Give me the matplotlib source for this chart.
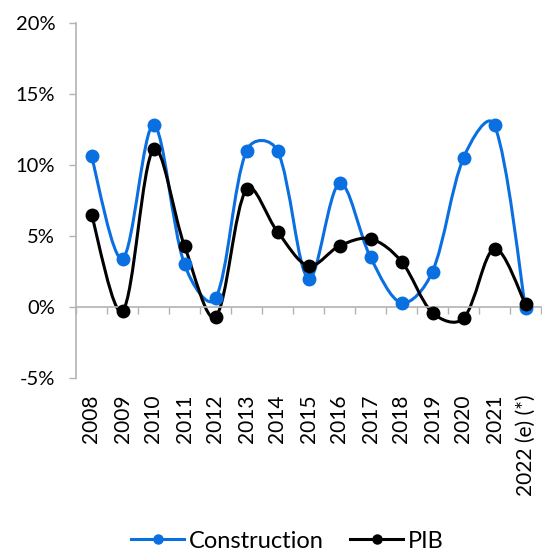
import matplotlib
matplotlib.use("Agg")
import matplotlib.pyplot as plt
import numpy as np
from matplotlib.path import Path
from matplotlib.patches import PathPatch
from matplotlib.lines import Line2D
from matplotlib.ticker import FuncFormatter

plt.rcParams['font.family'] = ['Lato', 'DejaVu Sans']

# Data (in %)
years = ['2008', '2009', '2010', '2011', '2012', '2013', '2014', '2015',
         '2016', '2017', '2018', '2019', '2020', '2021', '2022 (e) (*)']
construction = [10.6, 3.4, 12.8, 3.0, 0.6, 11.0, 11.0, 2.0,
                8.7, 3.5, 0.3, 2.5, 10.5, 12.8, -0.1]
pib = [6.5, -0.3, 11.1, 4.3, -0.7, 8.3, 5.3, 2.9,
       4.3, 4.8, 3.2, -0.4, -0.8, 4.1, 0.2]

BLUE = '#0A6FE0'
BLACK = '#000000'
GREY = '#b3b3b3'


def smooth_path(ax, x, y):
    """Excel-like smoothed line (Catmull-Rom in pixel space, damped where
    neighbouring segments have very different lengths)."""
    pts = ax.transData.transform(np.column_stack([x, y]).astype(float))
    n = len(pts)
    seg = np.hypot(*np.diff(pts, axis=0).T)

    def ctrl(i, forward):
        if i == 0 or i == n - 1:
            other = pts[i + 1] if i == 0 else pts[i - 1]
            return pts[i] + (other - pts[i]) / 6.0
        d = pts[i + 1] - pts[i - 1]
        own = seg[i] if forward else seg[i - 1]
        w = np.sqrt(2 * own / (seg[i - 1] + seg[i])) / 6.0
        return pts[i] + d * w if forward else pts[i] - d * w

    verts = [pts[0]]
    codes = [Path.MOVETO]
    for i in range(n - 1):
        verts += [ctrl(i, True), ctrl(i + 1, False), pts[i + 1]]
        codes += [Path.CURVE4] * 3
    verts = ax.transData.inverted().transform(np.array(verts))
    return Path(verts, codes)


fig = plt.figure(figsize=(5.42, 5.52), dpi=100)
ax = fig.add_axes([76 / 542, 1 - 378 / 552, 465 / 542, 355 / 552])

x = np.arange(len(years))
ax.set_xlim(-0.5, len(years) - 0.5)
ax.set_ylim(-5, 20)

for vals, col in [(construction, BLUE), (pib, BLACK)]:
    patch = PathPatch(smooth_path(ax, x, vals), facecolor='none',
                      edgecolor=col, lw=2.2, zorder=2)
    ax.add_patch(patch)
    ax.plot(x, vals, linestyle='none', marker='o', markersize=9,
            color=col, zorder=3)

ax.set_yticks([-5, 0, 5, 10, 15, 20])
ax.yaxis.set_major_formatter(FuncFormatter(lambda v, p: f'{v:.0f}%'))
ax.tick_params(axis='y', length=5, width=1, color=GREY, labelsize=14.5,
               pad=10, labelcolor='black')

for s in ['top', 'right']:
    ax.spines[s].set_visible(False)
ax.spines['left'].set_color(GREY)
ax.spines['bottom'].set_color(GREY)
ax.spines['bottom'].set_position(('data', 0))
ax.spines['left'].set_linewidth(1.2)
ax.spines['bottom'].set_linewidth(1.2)

# tick marks between categories on the zero line
ax.set_xticks(np.arange(len(years) + 1) - 0.5)
ax.set_xticklabels([])
ax.tick_params(axis='x', length=5, width=1, color=GREY, direction='out')

# category labels at bottom of plot area
sec = ax.secondary_xaxis(0)
sec.set_xticks(x)
sec.set_xticklabels(years, rotation=90, fontsize=15)
sec.tick_params(axis='x', length=0, pad=12)
sec.spines['bottom'].set_visible(False)

handles = [Line2D([], [], color=BLUE, lw=2.2, marker='o', markersize=6.5),
           Line2D([], [], color=BLACK, lw=2.2, marker='o', markersize=6.5)]
fig.legend(handles, ['Construction', 'PIB'], loc='center',
           bbox_to_anchor=(287.5 / 542, 1 - 541 / 552), ncol=2,
           frameon=False, fontsize=17, handlelength=2.25,
           columnspacing=1.1, handletextpad=0.2)

fig.savefig('out.png', dpi=100)
